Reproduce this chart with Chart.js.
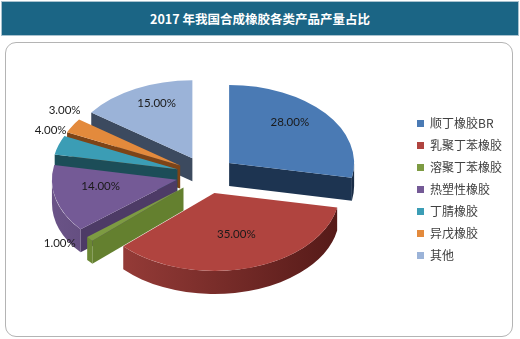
<!DOCTYPE html>
<html>
<head>
<meta charset="utf-8">
<script src="https://cdn.jsdelivr.net/npm/chart.js@4.4.1/dist/chart.umd.min.js"></script>
<style>
html, body { margin: 0; padding: 0; background: #fff; }
#wrap { position: relative; width: 520px; height: 339px; overflow: hidden; }
#title {
  position: absolute; left: 1px; top: 1px; width: 518px; height: 35px;
  box-sizing: border-box; background: #1b6585; border: 1px solid #a9c2cf;
  color: #fff; font: bold 12.5px "Noto Sans CJK SC", "Liberation Sans", sans-serif;
  text-align: center; line-height: 33px;
}
#frame {
  position: absolute; left: 5px; top: 42px; width: 508px; height: 295px;
  box-sizing: border-box; border: 1px solid #b4b4b4; border-radius: 11px;
}
#c { position: absolute; left: 0; top: 0; }
</style>
</head>
<body>
<div id="wrap">
  <div id="title">2017 年我国合成橡胶各类产品产量占比</div>
  <div id="frame"></div>
  <canvas id="c" width="520" height="339"></canvas>
</div>
<script>
// data
const categories = ["顺丁橡胶BR", "乳聚丁苯橡胶", "溶聚丁苯橡胶", "热塑性橡胶", "丁腈橡胶", "异戊橡胶", "其他"];
const shares = [28, 35, 1, 14, 4, 3, 15];
const shareLabels = ["28.00%", "35.00%", "1.00%", "14.00%", "4.00%", "3.00%", "15.00%"];

// look
const topColors  = ["#4a7ab4", "#b0443f", "#7d9b42", "#745a96", "#3b9db5", "#e38a3c", "#9bb3d8"];
const faceColors = ["#1d3451", "#6e2623", "#64802f", "#4d3b66", "#1c4d58", "#7d4417", "#3c4a5f"];
const wallLight  = ["#2f527c", "#9e403c", "#6f8c36", "#6a5387", "#2a6a7a", "#a85f24", "#5a6c88"];
const wallDark   = ["#1a2d46", "#551a18", "#4f6624", "#3f3054", "#17424c", "#6b3a12", "#34425a"];

const centerX = 206, centerY = 175;
const tilt = 0.624;     // vertical squash of the pie
const depth = 23;       // thickness of the pie
const explode = 30;     // distance each slice is pulled out

function drawWalls(ctx, it) {
  const { startAngle: a0, endAngle: a1, outerRadius: R } = it.p;
  const ry = R * tilt;
  ctx.save();
  ctx.fillStyle = faceColors[it.i];
  [[a0, Math.cos(a0) < -1e-9], [a1, Math.cos(a1) > 1e-9]].forEach(([a, visible]) => {
    if (!visible) return;
    const x = it.vx + R * Math.cos(a), y = it.vy + ry * Math.sin(a);
    ctx.beginPath();
    ctx.moveTo(it.vx, it.vy);
    ctx.lineTo(x, y);
    ctx.lineTo(x, y + depth);
    ctx.lineTo(it.vx, it.vy + depth);
    ctx.closePath();
    ctx.fill();
  });
  const t0 = Math.max(a0, 0), t1 = Math.min(a1, Math.PI);
  if (t1 > t0) {
    const g = ctx.createLinearGradient(it.vx - R, 0, it.vx + R, 0);
    g.addColorStop(0, wallLight[it.i]);
    g.addColorStop(1, wallDark[it.i]);
    ctx.fillStyle = g;
    ctx.beginPath();
    ctx.ellipse(it.vx, it.vy, R, ry, 0, t0, t1);
    ctx.ellipse(it.vx, it.vy + depth, R, ry, 0, t1, t0, true);
    ctx.closePath();
    ctx.fill();
  }
  ctx.restore();
}

const pie3d = {
  id: "pie3d",
  beforeDatasetDraw(chart, args) {
    const ctx = chart.ctx;
    const items = args.meta.data.map((arc, i) => {
      const p = arc.getProps(["x", "y", "startAngle", "endAngle", "outerRadius"], true);
      const mid = (p.startAngle + p.endAngle) / 2;
      return {
        arc, i, p, mid,
        vx: centerX + Math.cos(mid) * explode,
        vy: centerY + Math.sin(mid) * explode * tilt
      };
    });
    // back slices first
    items.sort((a, b) => Math.sin(a.mid) - Math.sin(b.mid));
    items.forEach(it => {
      drawWalls(ctx, it);
      ctx.save();
      ctx.translate(it.vx - it.p.x, it.vy - tilt * it.p.y);
      ctx.scale(1, tilt);
      it.arc.draw(ctx);
      ctx.restore();
    });

    /* ---------------- data labels ---------------- */
    ctx.save();
    ctx.font = "11.5px Lato, 'Liberation Sans', sans-serif";
    ctx.fillStyle = "#1a1a1a";
    ctx.textBaseline = "middle";
    items.forEach(it => {
      const R = it.p.outerRadius;
      const c = Math.cos(it.mid), s = Math.sin(it.mid);
      let x, y;
      if (shares[it.i] >= 10) {
        x = it.vx + c * R * 0.63;
        y = it.vy + s * R * 0.63 * tilt - 6 + Math.min(s, 0) * 6;
        ctx.textAlign = "center";
      } else {
        const rx = it.vx + c * R, ry = it.vy + s * R * tilt;
        if (s < 0) { x = rx + 8; y = ry - 15; } else { x = rx - 14; y = ry + 4; }
        ctx.textAlign = c < 0 ? "right" : "left";
      }
      ctx.fillText(shareLabels[it.i], x, y);
    });
    ctx.restore();
    return false;
  }
};

new Chart(document.getElementById("c"), {
  type: "pie",
  data: {
    labels: categories,
    datasets: [{
      data: shares,
      backgroundColor: topColors,
      borderWidth: 0,
      radius: 125,
      clip: false
    }]
  },
  options: {
    responsive: false,
    animation: false,
    events: [],
    layout: { padding: { top: 40, right: 8, bottom: 0, left: 0 } },
    plugins: {
      tooltip: { enabled: false },
      legend: {
        position: "right",
        align: "center",
        labels: {
          boxWidth: 7,
          boxHeight: 7,
          padding: 10,
          color: "#404040",
          font: { family: "'Noto Sans CJK SC'", size: 12 }
        }
      }
    }
  },
  plugins: [pie3d]
});
</script>
</body>
</html>
